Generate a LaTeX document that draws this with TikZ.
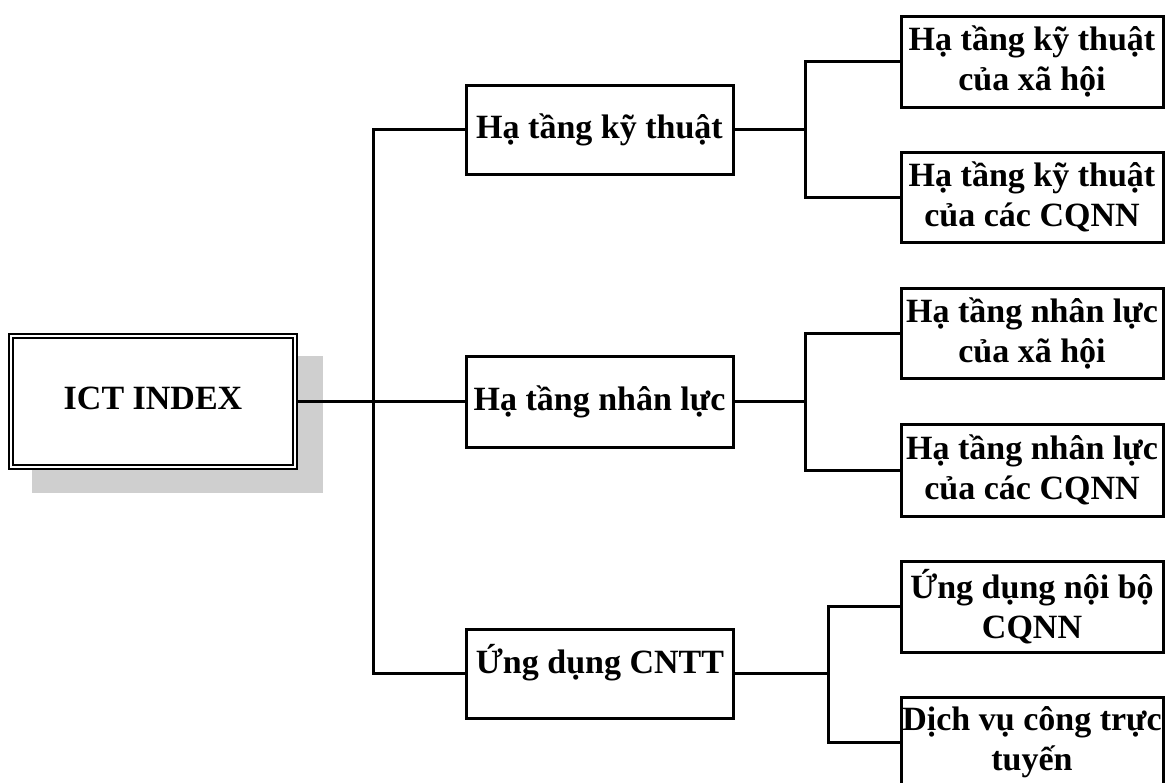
\documentclass[tikz,border=0pt]{standalone}
\usepackage{fontspec}
\setmainfont{Liberation Serif}
\begin{document}
\begin{tikzpicture}[x=1pt,y=-1pt,
  every node/.style={font=\fontsize{34}{40}\selectfont\bfseries},
  box/.style={draw=black, line width=3pt, fill=white, inner sep=0pt, minimum width=267pt, align=center},
  leaf/.style={draw=black, line width=3pt, fill=white, inner sep=0pt, minimum width=262pt, align=center},
  conn/.style={draw=black, line width=3pt}
]
\useasboundingbox (0,0) rectangle (1167,782);
\clip (0,0) rectangle (1167,782);
% shadow
\fill[black!19] (32,356) rectangle (323,493);
% root
\node[draw=black, line width=2pt, double=white, double distance=2.6pt, fill=white,
      minimum width=284pt, minimum height=131pt, inner sep=0pt] (ict) at (153,401.5) {\raisebox{3pt}[\height][\depth]{ICT INDEX}};
% level 1
\node[box, minimum height=89pt] (b1) at (599.5,129.5) {Hạ tầng kỹ thuật};
\node[box, minimum height=91pt] (b2) at (599.5,401.5) {Hạ tầng nhân lực};
\node[box, minimum height=89pt] (b3) at (600,673.5) {\raisebox{11pt}[\height][\depth]{Ứng dụng CNTT}};
% leaves
\node[leaf, minimum height=91pt] (l1) at (1032,61.5) {Hạ tầng kỹ thuật\\của xã hội};
\node[leaf, minimum height=90pt] (l2) at (1032,197) {Hạ tầng kỹ thuật\\của các CQNN};
\node[leaf, minimum height=90pt] (l3) at (1032,333) {Hạ tầng nhân lực\\của xã hội};
\node[leaf, minimum height=92pt] (l4) at (1032,470) {Hạ tầng nhân lực\\của các CQNN};
\node[leaf, minimum height=91pt] (l5) at (1032,606.5) {Ứng dụng nội bộ\\CQNN};
\node[leaf, minimum height=90pt] (l6) at (1032,742) {Dịch vụ công trực\\tuyến};
% junctions
\coordinate (t0) at (373,401.5);
\coordinate (j1) at (805,129.5);
\coordinate (j2) at (805,401.5);
\coordinate (j3) at (828,673.5);
% connectors
\draw[conn] (ict.east) -- (b2.west);
\draw[conn, line join=miter] (b1.west) -| (t0) |- (b3.west);
\draw[conn] (b1.east) -- (j1);
\draw[conn] (l1.west) -| (j1) |- (l2.west);
\draw[conn] (b2.east) -- (j2);
\draw[conn] (l3.west) -| (j2) |- (l4.west);
\draw[conn] (b3.east) -- (j3);
\draw[conn] (l5.west) -| (j3) |- (l6.west);
\end{tikzpicture}
\end{document}
